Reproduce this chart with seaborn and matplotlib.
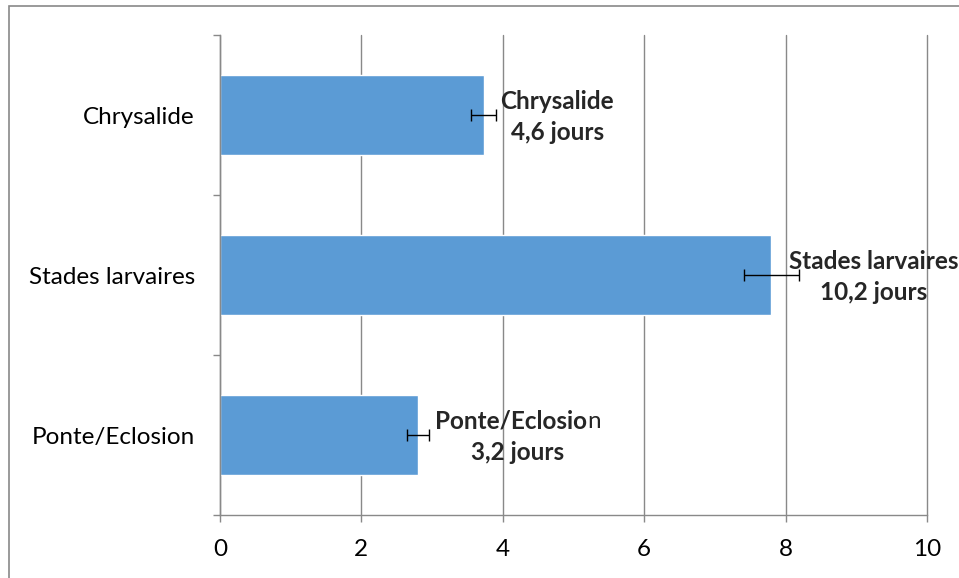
import matplotlib
matplotlib.use("Agg")
import matplotlib.pyplot as plt
import seaborn as sns
import pandas as pd
from matplotlib.patches import Rectangle

# données
stades = ["Chrysalide", "Stades larvaires", "Ponte/Eclosion"]
durees = [3.73, 7.80, 2.80]
erreurs = [0.18, 0.39, 0.15]
etiquettes = ["Chrysalide\n4,6 jours", "Stades larvaires\n10,2 jours", None]
pos_etiquettes = [4.77, 9.24, 4.21]
xticks = [0, 2, 4, 6, 8, 10]

sns.set_theme(style="white")
plt.rcParams['font.family'] = ['Lato', 'DejaVu Sans']
fs = 17.5

df = pd.DataFrame({"stade": stades, "duree": durees})

fig = plt.figure(figsize=(9.59, 5.78), dpi=100)
ax = fig.add_axes([220/959, 1-515/578, (927-220)/959, (515-35)/578])

gris = "#898989"
sns.barplot(data=df, y="stade", x="duree", orient="h", color="#5B9BD5",
            saturation=1, width=0.5, ax=ax, zorder=2)
ax.errorbar(durees, range(len(stades)), xerr=erreurs, fmt="none",
            ecolor="black", elinewidth=1, capsize=4.3, capthick=1, zorder=3)

ax.set_xlim(0, 10)
ax.set_ylim(2.5, -0.5)
ax.set_xticks(xticks)
ax.set_xticklabels([str(t) for t in xticks])
ax.set_xlabel("")
ax.set_ylabel("")
ax.grid(axis="x", color=gris, linewidth=1, zorder=0)
ax.grid(axis="y", visible=False)
ax.set_axisbelow(True)
for gl in ax.get_xgridlines():
    gl.set_clip_on(False)

for s in ["top", "right"]:
    ax.spines[s].set_visible(False)
for s in ["left", "bottom"]:
    ax.spines[s].set_color(gris)
    ax.spines[s].set_linewidth(1)

ax.set_yticks([-0.5, 0.5, 1.5, 2.5], minor=True)
ax.tick_params(axis="y", which="major", length=0, pad=18, labelsize=fs, labelcolor="black")
ax.tick_params(axis="y", which="minor", length=5, color=gris, width=1, left=True)
ax.tick_params(axis="x", which="major", length=5, color=gris, width=1, bottom=True,
               pad=12, labelsize=fs, labelcolor="black")

for i, (lab, px) in enumerate(zip(etiquettes, pos_etiquettes)):
    if lab is not None:
        ax.text(px, i + 0.01, lab, ha="center", va="center", fontsize=fs,
                fontweight="bold", linespacing=1.42, zorder=4)

# Ponte/Eclosion : le "n" final n'est pas en gras
t = ax.text(3.04, 2 - 0.09, "Ponte/Eclosio", ha="left", va="center", fontsize=fs,
            fontweight="bold", zorder=4)
ax.annotate("n", xy=(1, 0), xycoords=t, ha="left", va="bottom", fontsize=fs)
ax.text(pos_etiquettes[2], 2 + 0.11, "3,2 jours", ha="center", va="center",
        fontsize=fs, fontweight="bold", zorder=4)

fig.add_artist(Rectangle((9/959, -0.05), 1.0, 1 - 6/578 + 0.05, transform=fig.transFigure,
                         fill=False, edgecolor=gris, linewidth=1.2))

fig.savefig("out.png", dpi=100)
